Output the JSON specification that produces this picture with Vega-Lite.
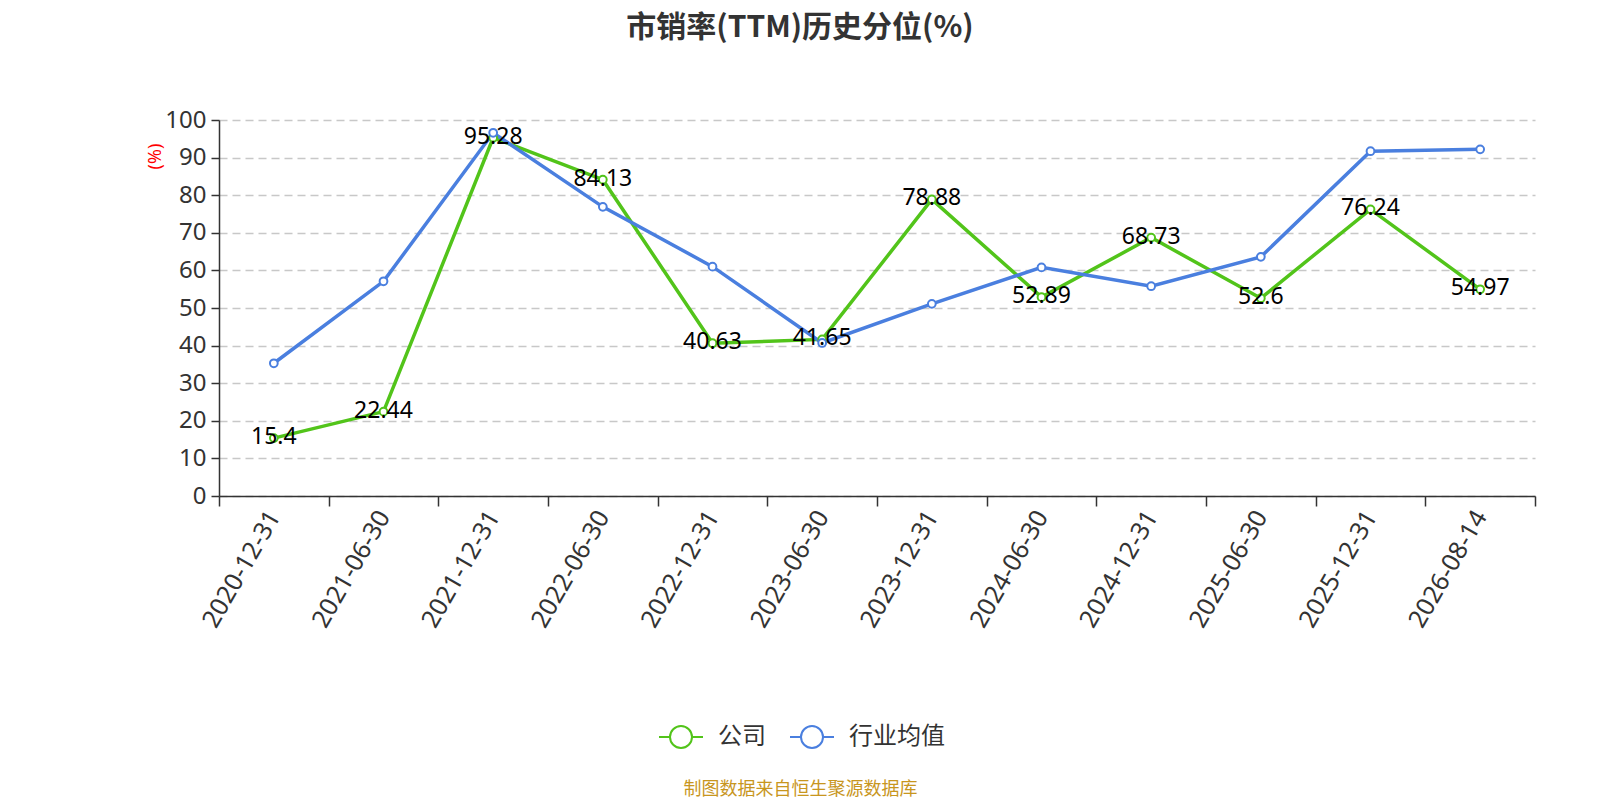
{
  "$schema": "https://vega.github.io/schema/vega-lite/v6.json",
  "width": 1316,
  "height": 376,
  "autosize": {"type": "none"},
  "padding": {"left": 219, "top": 120, "right": 65, "bottom": 304},
  "background": "white",
  "config": {
    "view": {"stroke": null},
    "font": "'Noto Sans', 'Noto Sans CJK SC', sans-serif"
  },
  "title": {
    "text": "市销率(TTM)历史分位(%)",
    "anchor": "middle",
    "frame": "group",
    "dx": -77,
    "offset": 65,
    "fontSize": 30,
    "fontWeight": "bold",
    "color": "#333333",
    "font": "'Noto Sans CJK SC', sans-serif"
  },
  "data": {
    "values": [
      {"date": "2020-12-31", "series": "公司", "value": 15.4},
      {"date": "2021-06-30", "series": "公司", "value": 22.44},
      {"date": "2021-12-31", "series": "公司", "value": 95.28},
      {"date": "2022-06-30", "series": "公司", "value": 84.13},
      {"date": "2022-12-31", "series": "公司", "value": 40.63},
      {"date": "2023-06-30", "series": "公司", "value": 41.65},
      {"date": "2023-12-31", "series": "公司", "value": 78.88},
      {"date": "2024-06-30", "series": "公司", "value": 52.89},
      {"date": "2024-12-31", "series": "公司", "value": 68.73},
      {"date": "2025-06-30", "series": "公司", "value": 52.6},
      {"date": "2025-12-31", "series": "公司", "value": 76.24},
      {"date": "2026-08-14", "series": "公司", "value": 54.97},
      {"date": "2020-12-31", "series": "行业均值", "value": 35.3},
      {"date": "2021-06-30", "series": "行业均值", "value": 57.1},
      {"date": "2021-12-31", "series": "行业均值", "value": 96.6},
      {"date": "2022-06-30", "series": "行业均值", "value": 76.9},
      {"date": "2022-12-31", "series": "行业均值", "value": 61.0},
      {"date": "2023-06-30", "series": "行业均值", "value": 40.7},
      {"date": "2023-12-31", "series": "行业均值", "value": 51.1},
      {"date": "2024-06-30", "series": "行业均值", "value": 60.8},
      {"date": "2024-12-31", "series": "行业均值", "value": 55.8},
      {"date": "2025-06-30", "series": "行业均值", "value": 63.6},
      {"date": "2025-12-31", "series": "行业均值", "value": 91.7},
      {"date": "2026-08-14", "series": "行业均值", "value": 92.2}
    ]
  },
  "encoding": {
    "x": {
      "field": "date",
      "type": "ordinal",
      "sort": null,
      "bandPosition": 0.5,
      "scale": {"type": "band", "paddingInner": 0, "paddingOuter": 0},
      "axis": {
        "title": "制图数据来自恒生聚源数据库",
        "titleColor": "#c8961e",
        "titleFontSize": 18,
        "titleFontWeight": "normal",
        "titleFont": "'Noto Sans CJK SC', sans-serif",
        "titleX": 581,
        "titleY": 293,
        "titleAlign": "center",
        "titleBaseline": "middle",
        "titleAnchor": null,
        "labelAngle": -60,
        "labelAlign": "right",
        "labelBaseline": "middle",
        "labelFontSize": 25,
        "labelColor": "#333333",
        "labelPadding": 6,
        "tickBand": "extent",
        "tickSize": 10,
        "tickColor": "#333333",
        "tickWidth": 1.5,
        "domainColor": "#333333",
        "domainWidth": 1.5,
        "grid": false
      }
    },
    "y": {
      "field": "value",
      "type": "quantitative",
      "scale": {"domain": [0, 100], "nice": false},
      "axis": {
        "values": [0, 10, 20, 30, 40, 50, 60, 70, 80, 90, 100],
        "grid": true,
        "gridDash": [8, 5],
        "gridColor": "#c8c8c8",
        "gridWidth": 1.3,
        "domainColor": "#333333",
        "domainWidth": 1.5,
        "tickColor": "#333333",
        "tickSize": 8,
        "tickWidth": 1.5,
        "labelFontSize": 24,
        "labelColor": "#333333",
        "labelPadding": 5,
        "title": "(%)",
        "titleColor": "#ff0000",
        "titleFontSize": 18,
        "titleFontWeight": "normal",
        "titleX": -64,
        "titleY": 36,
        "titleAlign": "center",
        "titleBaseline": "middle",
        "titleAngle": -90,
        "titleAnchor": null
      }
    },
    "color": {
      "field": "series",
      "type": "nominal",
      "scale": {"domain": ["公司", "行业均值"], "range": ["#52c41a", "#4a7fdf"]},
      "legend": {
        "orient": "none",
        "legendX": 439,
        "legendY": 594,
        "direction": "horizontal",
        "title": null,
        "labelFontSize": 24,
        "labelColor": "#333333",
        "labelFont": "'Noto Sans CJK SC', sans-serif",
        "labelOffset": 14,
        "columnPadding": 20,
        "symbolType": "M-1,0L-0.5,0M0.5,0L1,0M0.5,0A0.5,0.5 0 1,1 -0.5,0A0.5,0.5 0 1,1 0.5,0",
        "symbolSize": 1936,
        "symbolStrokeWidth": 2,
        "symbolFillColor": "white"
      }
    }
  },
  "layer": [
    {"mark": {"type": "line", "strokeWidth": 3.5}},
    {"mark": {"type": "point", "shape": "circle", "filled": false, "fill": "white", "size": 60, "strokeWidth": 2, "opacity": 1}},
    {
      "transform": [{"filter": "datum.series === '公司'"}],
      "mark": {"type": "text", "fontSize": 23, "align": "center", "baseline": "middle", "dy": -1},
      "encoding": {
        "text": {"field": "value", "type": "nominal"},
        "color": {"value": "#000000"}
      }
    }
  ]
}
